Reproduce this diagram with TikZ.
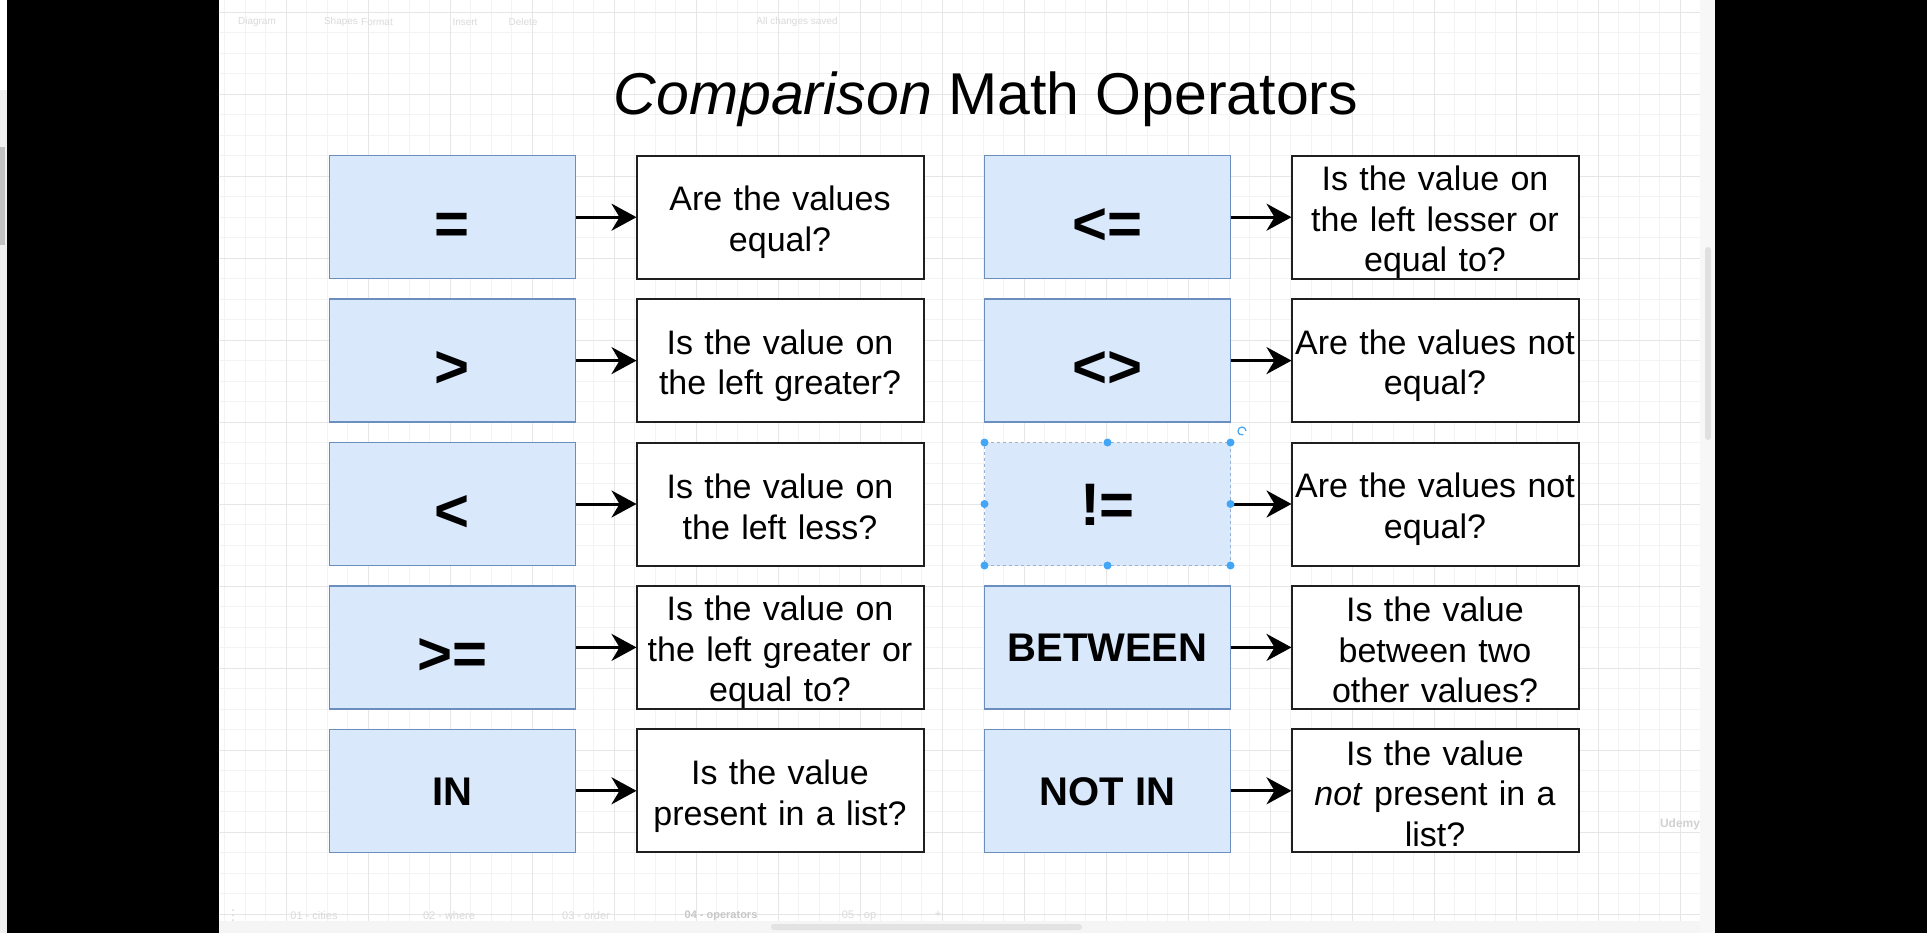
\documentclass[tikz,border=0pt]{standalone}
\usepackage{fontspec}
\setmainfont{Liberation Sans}
\usepackage{xcolor}
\usetikzlibrary{arrows.meta, positioning}
\definecolor{opfill}{HTML}{DAE8FC}
\definecolor{opline}{HTML}{6C8EBF}
\definecolor{gridminor}{HTML}{F3F3F3}
\definecolor{gridmajor}{HTML}{E6E6E6}
\definecolor{selblue}{HTML}{42A5F5}
\definecolor{uigray}{HTML}{DADADA}
\tikzset{
    opbox/.style={rectangle, minimum width=246pt, minimum height=123pt, inner sep=0pt, outer sep=0pt, draw=opline, line width=1.5pt, fill=opfill, text height=54pt, text depth=0pt, font=\fontsize{60}{60}\selectfont\bfseries},
    opword/.style={opbox, text height=28.6pt, font=\fontsize{40}{40}\selectfont\bfseries},
    descbox/.style={rectangle, minimum width=287pt, minimum height=123pt, text width=281pt, inner xsep=3pt, inner ysep=0pt, outer sep=0pt, align=center, draw=black!88, line width=2pt, fill=white, font=\fontsize{34}{40.5}\selectfont,
      execute at begin node={\rule{0pt}{35pt}}, execute at end node={\rule[-5.5pt]{0pt}{5.5pt}}},
    arrowline/.style={-{Stealth[length=25pt, width=27pt, inset=8pt]}, line width=3pt}
}

\begin{document}
\begin{tikzpicture}[x=1pt, y=-1pt,
  uitext/.style={text=uigray, font=\fontsize{10}{10}\selectfont},
  tabtext/.style={text=uigray, font=\fontsize{11}{11}\selectfont}]
  \useasboundingbox (0,0) rectangle (1927,933);
  \fill[white] (0,0) rectangle (1927,933);
  \fill[black!6] (0,90) rectangle (7,933);
  \fill[black!24] (0,147) rectangle (5,245);
  \fill[black] (7,0) rectangle (218.5,933);
  \fill[black] (1715,0) rectangle (1927,933);
  \fill[black!3] (1700,0) rectangle (1715,933);
  \fill[black!4] (218.5,921) rectangle (1700,933);
  \foreach \k in {10,...,81} \draw[gridminor, line width=0.8pt] ({19.8+20.5*\k},0) -- ({19.8+20.5*\k},921);
  \foreach \k in {0,...,44} \draw[gridminor, line width=0.8pt] (218.5,{12.3+20.5*\k}) -- (1700,{12.3+20.5*\k});
  \foreach \k in {3,...,20} \draw[gridmajor, line width=0.8pt] ({40.3+82*\k},0) -- ({40.3+82*\k},921);
  \foreach \k in {0,...,11} \draw[gridmajor, line width=0.8pt] (218.5,{12.3+82*\k}) -- (1700,{12.3+82*\k});
  \fill[black!12, rounded corners=3pt] (1705,247) rectangle (1711,440);
  \fill[black!11, rounded corners=3pt] (771,924) rectangle (1082,930);

  \node[uitext] (tbdiagram) at (257,22) {Diagram};
  \node[uitext] (tbshapes) at (341,22) {Shapes};
  \node[uitext] (tbformat) at (377,22) {Format};
  \node[uitext] (tbinsert) at (465,22) {Insert};
  \node[uitext] (tbdelete) at (523,22) {Delete};
  \node[uitext] (tbsaved) at (797,22) {All changes saved};

  \node[anchor=base, font=\fontsize{59}{59}\selectfont] (title) at (986,115) {\textit{Comparison} Math Operators};

  \node[opbox] (eq) at (452.5,217.2) {=};
  \node[descbox, right=61pt of eq] (eqdesc) {Are the values\\equal?};
  \node[opbox, below=20.4pt of eq] (gt) {>};
  \node[descbox, right=61pt of gt] (gtdesc) {Is the value on\\the left greater?};
  \node[opbox, below=20.4pt of gt] (lt) {<};
  \node[descbox, right=61pt of lt] (ltdesc) {Is the value on\\the left less?};
  \node[opbox, below=20.4pt of lt] (ge) {>=};
  \node[descbox, right=61pt of ge] (gedesc) {Is the value on\\the left greater or\\equal to?};
  \node[opword, below=20.4pt of ge] (in) {IN};
  \node[descbox, right=61pt of in] (indesc) {Is the value\\present in a list?};

  \node[opbox, right=61pt of eqdesc] (le) {<=};
  \node[descbox, right=61pt of le] (ledesc) {Is the value on\\the left lesser or\\equal to?};
  \node[opbox, below=20.4pt of le] (ne) {<>};
  \node[descbox, right=61pt of ne] (nedesc) {Are the values not\\equal?};
  \node[opbox, text height=43pt, draw=opline!70, dashed, line width=1pt, below=20.4pt of ne] (bang) {!=};
  \node[descbox, right=61pt of bang] (bangdesc) {Are the values not\\equal?};
  \node[opword, below=20.4pt of bang] (between) {BETWEEN};
  \node[descbox, right=61pt of between] (betweendesc) {Is the value\\between two\\other values?};
  \node[opword, below=20.4pt of between] (notin) {NOT IN};
  \node[descbox, right=61pt of notin] (notindesc) {Is the value\\\textit{not} present in a\\list?};

  \draw[arrowline] (eq) -- (eqdesc);
  \draw[arrowline] (gt) -- (gtdesc);
  \draw[arrowline] (lt) -- (ltdesc);
  \draw[arrowline] (ge) -- (gedesc);
  \draw[arrowline] (in) -- (indesc);
  \draw[arrowline] (le) -- (ledesc);
  \draw[arrowline] (ne) -- (nedesc);
  \draw[arrowline] (bang) -- (bangdesc);
  \draw[arrowline] (between) -- (betweendesc);
  \draw[arrowline] (notin) -- (notindesc);

  \foreach \a in {north west,north,north east,east,south east,south,south west,west}
    \fill[selblue] (bang.\a) circle (4pt);
  \draw[selblue, line width=1.2pt] (1246,431) arc[start angle=0, end angle=290, radius=4pt];

  \foreach \d in {910,915,920} \fill[uigray] (233,\d) circle (1pt);
  \node[tabtext] (tabcities) at (314,916) {01 - cities};
  \node[tabtext] (tabwhere) at (449,916) {02 - where};
  \node[tabtext] (taborder) at (586,916) {03 - order};
  \node[tabtext, text=black!22, font=\fontsize{11}{11}\selectfont\bfseries] (tabops) at (721,916) {04 - operators};
  \node[tabtext] (tabop) at (859,916) {05 - op};
  \node[tabtext] (tabadd) at (938,914) {+};
  \node[text=black!18, font=\fontsize{12}{12}\selectfont\bfseries] (logo) at (1680,824) {Udemy};
\end{tikzpicture}
\end{document}
